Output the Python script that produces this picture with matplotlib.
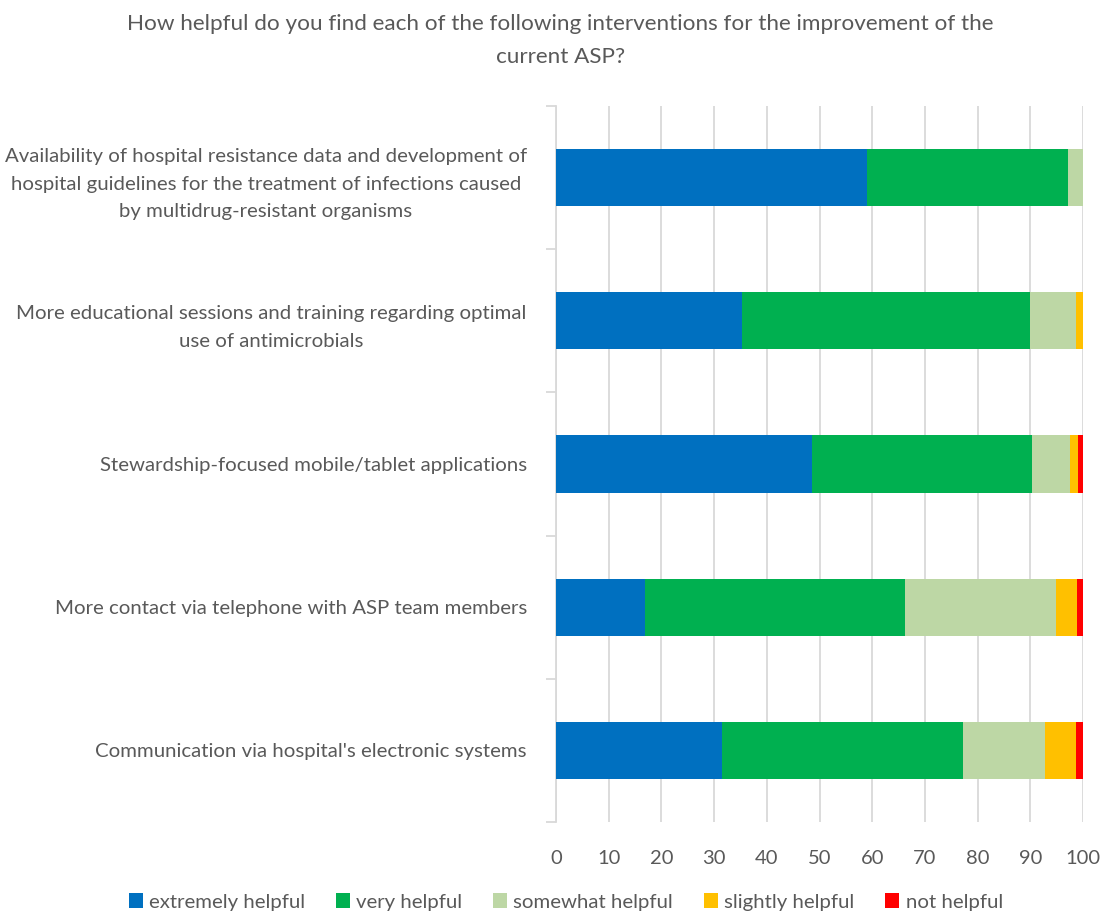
import numpy as np
import matplotlib.pyplot as plt

plt.rcParams["font.family"] = ["Lato", "DejaVu Sans"]

# survey answers, percent of respondents
questions = [
    "Availability of hospital resistance data and development of\nhospital guidelines for the treatment of infections caused\nby multidrug-resistant organisms",
    "More educational sessions and training regarding optimal\nuse of antimicrobials",
    "Stewardship-focused mobile/tablet applications",
    "More contact via telephone with ASP team members",
    "Communication via hospital's electronic systems",
]
extremely = [59.0, 35.2, 48.6, 16.9, 31.5]
very = [38.2, 54.8, 41.7, 49.4, 45.8]
somewhat = [2.8, 8.7, 7.2, 28.6, 15.4]
slightly = [0.0, 1.3, 1.6, 3.9, 6.0]
not_helpful = [0.0, 0.0, 0.9, 1.2, 1.3]

series = [
    ("extremely helpful", extremely, "#0070C0"),
    ("very helpful", very, "#00B050"),
    ("somewhat helpful", somewhat, "#BDD7A5"),
    ("slightly helpful", slightly, "#FFC000"),
    ("not helpful", not_helpful, "#FF0000"),
]

txt = "#595959"
grid = "#D9D9D9"

fig = plt.figure(figsize=(11.05, 9.18), dpi=100)
ax = fig.add_axes([0.5032, 0.1046, 0.4769, 0.780])

y = np.arange(len(questions))
left = np.zeros(len(questions))
for name, vals, col in series:
    vals = np.array(vals)
    ax.barh(y, vals, left=left, height=0.4, color=col, label=name, zorder=3)
    left += vals

ax.set_xlim(0, 100)
ax.set_ylim(len(questions) - 0.5, -0.5)
ax.set_xticks(np.arange(0, 101, 10))
ax.set_yticks(y)
ax.set_yticklabels(questions, ha="right", multialignment="center", linespacing=1.75)
ax.set_yticks(np.arange(-0.5, len(questions), 1), minor=True)

ax.grid(axis="x", color=grid, linewidth=1.3, zorder=0)
for s in ["top", "right", "bottom"]:
    ax.spines[s].set_visible(False)
ax.spines["left"].set_color(grid)
ax.spines["left"].set_linewidth(1.3)

ax.tick_params(axis="x", length=0, pad=20, labelsize=14.5, labelcolor=txt)
ax.tick_params(axis="y", which="major", length=0, pad=21, labelsize=14.7, labelcolor=txt)
ax.tick_params(axis="y", which="minor", length=7, width=1.3, color=grid)

fig.text(0.507, 0.985, "How helpful do you find each of the following interventions for the improvement of the\ncurrent ASP?",
         ha="center", va="top", fontsize=16.2, color=txt, linespacing=1.8)

leg = fig.legend(loc="lower center", bbox_to_anchor=(0.512, -0.012), ncol=5, frameon=False,
                 fontsize=14.7, handlelength=0.7, handleheight=0.7, handletextpad=0.3,
                 columnspacing=1.5, labelcolor=txt)

fig.savefig("out.png", dpi=100)
